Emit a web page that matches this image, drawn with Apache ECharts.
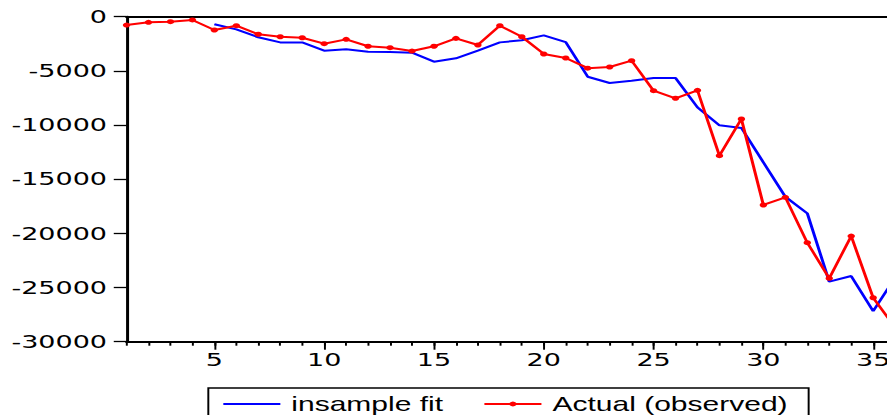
<!DOCTYPE html>
<html>
<head>
<meta charset="utf-8">
<script src="https://cdn.jsdelivr.net/npm/echarts@6/dist/echarts.min.js"></script>
<style>
html,body{margin:0;padding:0;background:#fff;overflow:hidden;width:887px;height:415px;}
#c{width:591px;height:415px;transform:scaleX(1.50085);transform-origin:0 0;}
</style>
</head>
<body>
<div id="c"></div>
<script>
// Data
const periods = [1,2,3,4,5,6,7,8,9,10,11,12,13,14,15,16,17,18,19,20,21,22,23,24,25,26,27,28,29,30,31,32,33,34,35,36];
const actualObserved = [-770,-520,-460,-300,-1230,-830,-1620,-1850,-1940,-2490,-2090,-2730,-2860,-3170,-2730,-2000,-2610,-830,-1850,-3440,-3810,-4750,-4640,-4060,-6830,-7530,-6800,-12830,-9440,-17380,-16670,-20860,-24150,-20250,-25940,-28700];
const insampleFit = [null,null,null,null,-700,-1170,-1900,-2370,-2370,-3140,-3010,-3230,-3260,-3320,-4150,-3840,-3140,-2370,-2180,-1720,-2340,-5540,-6120,-5910,-5660,-5660,-8370,-10030,-10270,-13440,-16620,-18150,-24460,-23940,-27170,-24100];
const xMajorTicks = [5,10,15,20,25,30,35];
const xMinorTicks = [1,2,3,4,5,6,7,8,9,10,11,12,13,14,15,16,17,18,19,20,21,22,23,24,25,26,27,28,29,30,31,32,33,34,35];
const yTicks = {min:-30000, max:0, interval:5000};
const xRange = {min:1, max:35.63};

const fitData = periods.map((p,i)=>[p, insampleFit[i]]);
const actData = periods.map((p,i)=>[p, actualObserved[i]]);

const chart = echarts.init(document.getElementById('c'), null, {renderer:'svg'});
const labelFont = {fontFamily:'DejaVu Sans', fontSize:18, color:'#000'};
chart.setOption({
  animation:false,
  backgroundColor:'#fff',
  grid:{left:84.3, right:0, top:16.7, bottom:73.3, containLabel:false, outerBoundsMode:'none'},
  xAxis:[
    {type:'value', min:xRange.min, max:xRange.max, position:'bottom',
     axisLine:{show:true, onZero:false, lineStyle:{color:'#000', width:2}},
     axisTick:{show:true, customValues:xMajorTicks, length:8, inside:false, lineStyle:{color:'#000', width:1.3}},
     axisLabel:{show:true, customValues:xMajorTicks, margin:9, hideOverlap:false, ...labelFont},
     splitLine:{show:false}},
    {type:'value', min:xRange.min, max:xRange.max, position:'bottom',
     axisLine:{show:false, onZero:false},
     axisTick:{show:true, customValues:xMinorTicks, length:4, lineStyle:{color:'#000', width:1.3}},
     axisLabel:{show:false},
     splitLine:{show:false}},
    {type:'value', min:xRange.min, max:xRange.max, position:'top',
     axisLine:{show:true, onZero:false, lineStyle:{color:'#000', width:2}},
     axisTick:{show:false}, axisLabel:{show:false}, splitLine:{show:false}}
  ],
  yAxis:{type:'value', min:yTicks.min, max:yTicks.max, interval:yTicks.interval,
     axisLine:{show:true, onZero:false, lineStyle:{color:'#000', width:2}},
     axisTick:{show:true, length:8.5, lineStyle:{color:'#000', width:1.3}},
     axisLabel:{show:true, margin:13, formatter:(v)=>String(v), ...labelFont},
     splitLine:{show:false}},
  legend:{
    show:true, left:138.8, top:388, orient:'horizontal',
    padding:[6,14,12,9], itemGap:26.5, itemWidth:38, itemHeight:6,
    borderColor:'#000', borderWidth:1.3, borderRadius:0, backgroundColor:'#fff',
    textStyle:{fontFamily:'Liberation Sans', fontSize:20, color:'#000', padding:[0,0,0,2.3]},
    data:[{name:'insample fit', itemStyle:{opacity:0}}, {name:'Actual (observed)'}]
  },
  series:[
    {name:'insample fit', type:'line', data:fitData, xAxisIndex:0,
     showSymbol:false, symbol:'none', connectNulls:false,
     lineStyle:{color:'#0000ff', width:2}, itemStyle:{color:'#0000ff'}, clip:true},
    {name:'Actual (observed)', type:'line', data:actData, xAxisIndex:0,
     symbol:'circle', symbolSize:5, showSymbol:true,
     lineStyle:{color:'#ff0000', width:2}, itemStyle:{color:'#ff0000'}, clip:true}
  ]
});
</script>
</body>
</html>
